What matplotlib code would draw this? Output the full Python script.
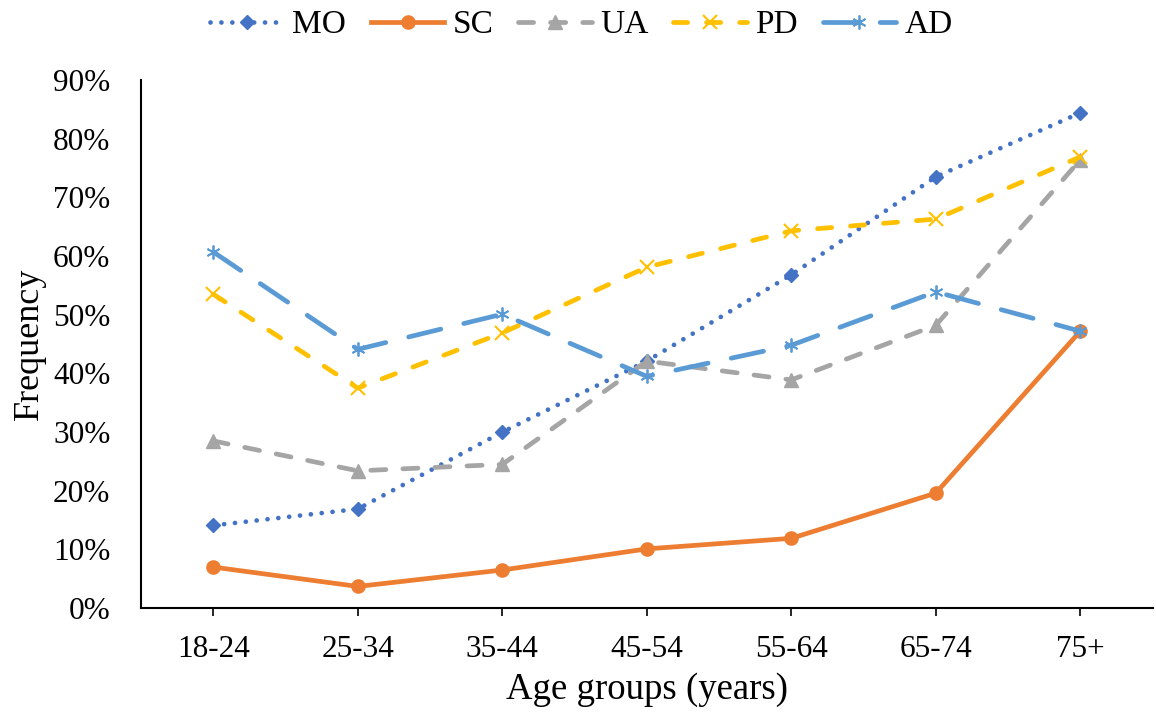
import numpy as np
import matplotlib.pyplot as plt
from matplotlib.ticker import PercentFormatter

plt.rcParams['font.family'] = ['Liberation Serif', 'DejaVu Serif']

# Data (percent)
age_groups = ['18-24', '25-34', '35-44', '45-54', '55-64', '65-74', '75+']
mo = [14.1, 16.9, 30.0, 42.1, 56.8, 73.5, 84.4]
sc = [7.0, 3.7, 6.5, 10.1, 11.9, 19.6, 47.2]
ua = [28.5, 23.4, 24.5, 42.1, 38.9, 48.2, 76.4]
pd_ = [53.5, 37.5, 46.9, 58.1, 64.3, 66.3, 76.9]
ad = [60.7, 44.1, 50.1, 39.5, 44.8, 53.9, 47.2]

x = np.arange(len(age_groups))

fig = plt.figure(figsize=(11.56, 7.24), dpi=100)
ax = fig.add_axes([0.122, 0.160, 0.875, 0.7295])

lw = 3.4
ax.plot(x, mo, color='#4472C4', linestyle=(0, (0.01, 2.3)), linewidth=lw,
        marker='D', markersize=7.5, label='MO', dash_capstyle='round')
ax.plot(x, sc, color='#ED7D31', linestyle='-', linewidth=lw,
        marker='o', markersize=9.5, label='SC')
ax.plot(x, ua, color='#A5A5A5', linestyle=(0, (3.2, 3.6)), linewidth=lw,
        marker='^', markersize=9.5, label='UA', dash_capstyle='round')
ax.plot(x, pd_, color='#FFC000', linestyle=(0, (3, 4)), linewidth=lw,
        marker='x', markersize=9.5, markeredgewidth=1.5, label='PD',
        dash_capstyle='round')
ax.plot(x, ad, color='#5B9BD5', linestyle=(0, (7, 5)), linewidth=lw,
        marker=(6, 2, 0), markersize=10, markeredgewidth=1.3, label='AD',
        dash_capstyle='round')

ax.set_xlim(-0.5, 6.5)
ax.set_ylim(0, 90)
ax.set_yticks(np.arange(0, 91, 10))
ax.yaxis.set_major_formatter(PercentFormatter(decimals=0))
ax.set_xticks(x)
ax.set_xticklabels(age_groups)

ax.spines['top'].set_visible(False)
ax.spines['right'].set_visible(False)
ax.spines['left'].set_linewidth(1.5)
ax.spines['bottom'].set_linewidth(1.5)
ax.tick_params(axis='y', length=0, labelsize=22.5, pad=22)
ax.tick_params(axis='x', length=6, width=1.2, labelsize=22.5, pad=13)

ax.set_xlabel('Age groups (years)', fontsize=26.5, labelpad=6)
ax.set_ylabel('Frequency', fontsize=26, labelpad=5)

fig.legend(loc='upper center', bbox_to_anchor=(0.503, 1.005), ncol=5, frameon=False,
           fontsize=24, handlelength=2.2, columnspacing=0.75, handletextpad=0.25,
           borderaxespad=0)

fig.savefig('out.png', dpi=100)
